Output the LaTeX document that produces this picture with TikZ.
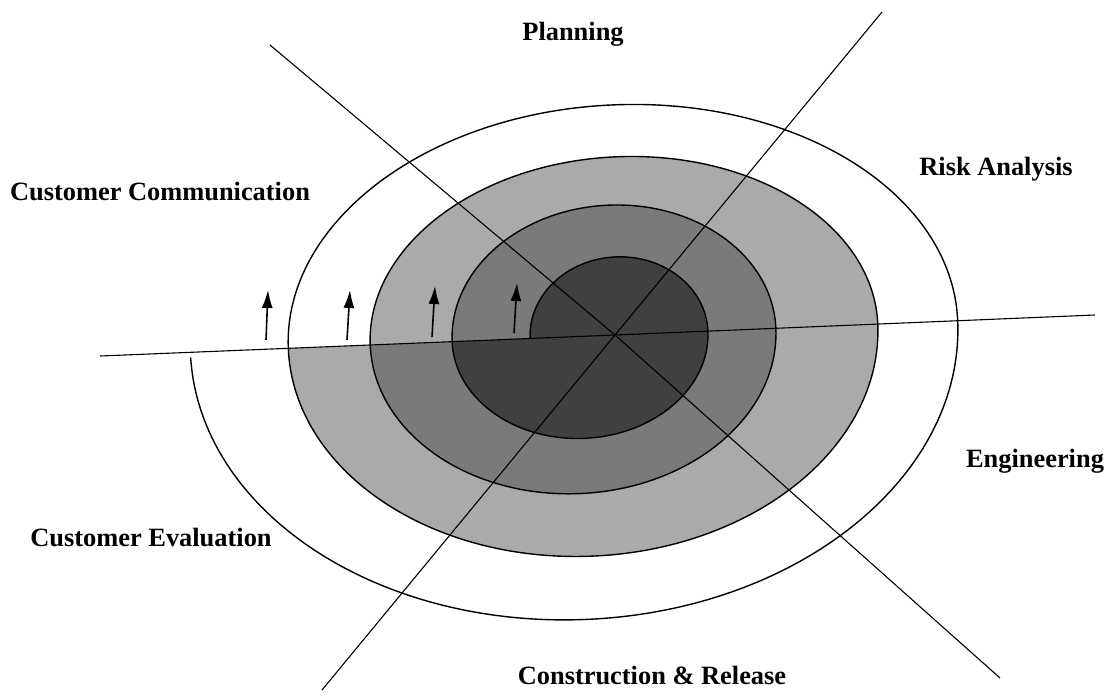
\documentclass[tikz,border=0pt]{standalone}
\usepackage{fontspec}
\setmainfont{Liberation Serif}
\usetikzlibrary{arrows.meta}
\definecolor{lightshade}{RGB}{170,170,170}
\definecolor{midshade}{RGB}{122,122,122}
\definecolor{darkshade}{RGB}{64,64,64}
\begin{document}
\begin{tikzpicture}[x=1pt,y=-1pt,
  lbl/.style={font=\fontsize{26.4}{30}\selectfont\bfseries, inner sep=0pt, anchor=base},
  spiralline/.style={line width=1.4pt, draw=black},
  axisline/.style={line width=1.1pt, draw=black},
  uparrow/.style={line width=1.6pt, -{Latex[length=18pt,width=11pt]}}]
\useasboundingbox (0,0) rectangle (1107,696);
\coordinate (C) at (615,335);
\begin{scope}[rotate around={2.36:(C)}]
  % shaded regions
  \fill[lightshade] (370,335) arc[start angle=180,end angle=360,x radius=254,y radius=178]
                              arc[start angle=0,end angle=180,x radius=295,y radius=220] -- cycle;
  \fill[midshade] (452,335) arc[start angle=180,end angle=360,x radius=162,y radius=130]
                            arc[start angle=0,end angle=180,x radius=203,y radius=157] -- cycle;
  \fill[darkshade] (530,335) arc[start angle=180,end angle=360,x radius=89,y radius=78]
                             arc[start angle=0,end angle=180,x radius=128,y radius=102] -- cycle;
  % the spiral
  \draw[spiralline] (530,335)
     arc[start angle=180,end angle=360,x radius=89,y radius=78]
     arc[start angle=0,end angle=180,x radius=128,y radius=102]
     arc[start angle=180,end angle=360,x radius=162,y radius=130]
     arc[start angle=0,end angle=180,x radius=203,y radius=157]
     arc[start angle=180,end angle=360,x radius=254,y radius=178]
     arc[start angle=0,end angle=180,x radius=295,y radius=220]
     arc[start angle=180,end angle=360,x radius=335,y radius=230]
     arc[start angle=0,end angle=179,x radius=384,y radius=283];
\end{scope}
% axes
\coordinate (hL) at (100,356);
\coordinate (hR) at (1095,315);
\coordinate (d1a) at (270,45);
\coordinate (d1b) at (1000,678);
\coordinate (d2a) at (882,12);
\coordinate (d2b) at (322,690);
\draw[axisline] (hL) -- (C) -- (hR);
\draw[axisline] (d1a) -- (C) -- (d1b);
\draw[axisline] (d2a) -- (C) -- (d2b);
% arrows
\coordinate (a1t) at (266,340); \coordinate (a1h) at (268,290);
\coordinate (a2t) at (347,340); \coordinate (a2h) at (350,290);
\coordinate (a3t) at (432,337); \coordinate (a3h) at (435,286);
\coordinate (a4t) at (514,333); \coordinate (a4h) at (517,283);
\draw[uparrow] (a1t) -- (a1h);
\draw[uparrow] (a2t) -- (a2h);
\draw[uparrow] (a3t) -- (a3h);
\draw[uparrow] (a4t) -- (a4h);
% labels
\node[lbl] (planning) at (573,40) {Planning};
\node[lbl] (risk) at (996,175) {Risk Analysis};
\node[lbl] (custcomm) at (160,200) {Customer Communication};
\node[lbl] (eng) at (1035,467) {Engineering};
\node[lbl] (custeval) at (151,546) {Customer Evaluation};
\node[lbl] (constr) at (652,684) {Construction \& Release};
\end{tikzpicture}
\end{document}
